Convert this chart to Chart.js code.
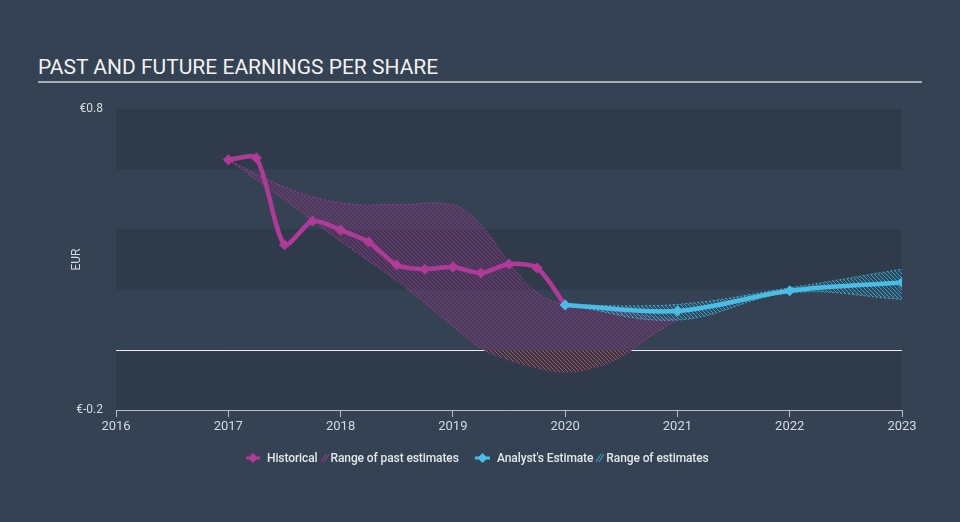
<!DOCTYPE html>
<html>
<head>
<meta charset="utf-8">
<script src="https://cdn.jsdelivr.net/npm/chart.js@4"></script>
<style>
  html, body { margin: 0; padding: 0; }
  body {
    width: 960px; height: 522px; overflow: hidden; position: relative;
    background: #344253; font-family: Roboto, "Open Sans", sans-serif;
  }
  #title {
    position: absolute; left: 38px; top: 57px; width: 884px;
    font-size: 21px; line-height: 21px; color: #f2f2f2;
    padding-bottom: 3px; border-bottom: 2px solid #a7adb5;
  }
  #chart { position: absolute; left: 0; top: 0; }
  .legend {
    position: absolute; top: 451px; height: 14px; display: flex; align-items: center;
    font-size: 12px; letter-spacing: -0.1px; font-weight: 500; color: #e4e6ea; white-space: nowrap;
  }
  .legend svg { display: block; }
  .legend .ico { margin-right: 7px; }
  .legend .hatch { margin: 0 2px 0 3px; }
</style>
</head>
<body>
<div id="title">PAST AND FUTURE EARNINGS PER SHARE</div>
<canvas id="chart" width="960" height="522"></canvas>
<div class="legend" style="left:246px">
  <svg class="ico" width="14" height="12"><line x1="0" y1="6" x2="14" y2="6" stroke="#b13a98" stroke-width="3"/><path d="M7 1 L12 6 L7 11 L2 6 Z" fill="#b13a98"/></svg>
  <span>Historical</span>
  <svg class="hatch" width="8" height="10"><path d="M0 9 L5 1 M3 9 L8 1" stroke="#8a3a86" stroke-width="1.4"/></svg>
  <span>Range of past estimates</span>
</div>
<div class="legend" style="left:475px">
  <svg class="ico" width="15" height="12"><line x1="0" y1="6" x2="15" y2="6" stroke="#49bde3" stroke-width="3"/><path d="M7.5 1 L12.5 6 L7.5 11 L2.5 6 Z" fill="#49bde3"/></svg>
  <span>Analyst's Estimate</span>
  <svg class="hatch" width="8" height="10"><path d="M0 9 L5 1 M3 9 L8 1" stroke="#3c8fb0" stroke-width="1.4"/></svg>
  <span>Range of estimates</span>
</div>
<script>
// historical EPS (EUR), quarterly
const histYears = [2017, 2017.25, 2017.5, 2017.75, 2018, 2018.25, 2018.5, 2018.75, 2019, 2019.25, 2019.5, 2019.75, 2020];
const histEps = [0.631, 0.637, 0.349, 0.428, 0.398, 0.358, 0.282, 0.268, 0.275, 0.255, 0.285, 0.272, 0.149];

// range of past estimates
const pastYears = [2017, 2017.5, 2018, 2018.5, 2019, 2019.25, 2019.5, 2019.75, 2020, 2020.25, 2020.5, 2020.75, 2021];
const pastHigh = [0.631, 0.541, 0.488, 0.482, 0.481, 0.415, 0.29, 0.19, 0.149, 0.138, 0.125, 0.112, 0.099];
const pastLow = [0.631, 0.498, 0.361, 0.229, 0.079, 0.005, -0.034, -0.06, -0.074, -0.06, -0.024, 0.043, 0.099];

// analyst estimates
const estYears = [2020, 2021, 2022, 2023];
const estEps = [0.149, 0.129, 0.196, 0.224];
const estHigh = [0.149, 0.151, 0.206, 0.268];
const estLow = [0.149, 0.099, 0.189, 0.168];

const yTickLabels = ["€0.8", "€-0.2"];

const colors = {
  magenta: "#b13a98",
  magentaEdge: "rgba(190, 60, 160, 0.75)",
  blue: "#49bde3",
  blueEdge: "rgba(73, 189, 227, 0.85)",
  band: "#2f3b4b",
  tick: "#d6dae0",
  axis: "#b9bec6",
};

function pts(xs, ys) {
  return xs.map((x, i) => ({ x, y: ys[i] }));
}

function hatch(line, bg) {
  const c = document.createElement("canvas");
  c.width = 4; c.height = 4;
  const g = c.getContext("2d");
  if (bg) { g.fillStyle = bg; g.fillRect(0, 0, 4, 4); }
  g.strokeStyle = line;
  g.lineWidth = 1;
  g.beginPath();
  g.moveTo(-1, -1); g.lineTo(5, 5);
  g.moveTo(-1, 3); g.lineTo(1, 5);
  g.moveTo(3, -1); g.lineTo(5, 1);
  g.stroke();
  return g.createPattern(c, "repeat");
}

const bandsPlugin = {
  id: "bands",
  beforeDatasetsDraw(chart) {
    const { ctx, chartArea, scales } = chart;
    const y = scales.y;
    ctx.save();
    ctx.fillStyle = colors.band;
    [[0.6, 0.8], [0.2, 0.4], [-0.2, 0]].forEach(([a, b]) => {
      const top = y.getPixelForValue(b);
      const bot = y.getPixelForValue(a);
      ctx.fillRect(chartArea.left, top, chartArea.right - chartArea.left, bot - top);
    });
    ctx.restore();
  },
};

// zero line drawn on top of the bands
const zeroPlugin = {
  id: "zero",
  beforeDatasetsDraw(chart) {
    const { ctx, chartArea, scales } = chart;
    const y0 = Math.round(scales.y.getPixelForValue(0)) + 0.5;
    ctx.save();
    ctx.strokeStyle = "#e8eaee";
    ctx.lineWidth = 1;
    ctx.beginPath();
    ctx.moveTo(chartArea.left, y0);
    ctx.lineTo(chartArea.right, y0);
    ctx.stroke();
    ctx.restore();
  },
};

const pinkHatch = hatch("rgba(185, 55, 155, 0.42)", "rgba(150, 50, 130, 0.2)");
const redHatch = hatch("rgba(220, 80, 80, 0.85)", colors.band);
const blueHatch = hatch("rgba(73, 189, 227, 0.7)", "rgba(40, 120, 160, 0.2)");

new Chart(document.getElementById("chart"), {
  type: "line",
  data: {
    datasets: [
      {
        label: "Historical",
        data: pts(histYears, histEps),
        borderColor: colors.magenta,
        backgroundColor: colors.magenta,
        borderWidth: 4.5,
        pointStyle: "rectRot",
        pointRadius: 5.5,
        pointBorderWidth: 0,
        tension: 0.25,
        fill: false,
        order: 1,
      },
      {
        label: "Analyst's Estimate",
        data: pts(estYears, estEps),
        borderColor: colors.blue,
        backgroundColor: colors.blue,
        borderWidth: 4.5,
        pointStyle: "rectRot",
        pointRadius: 5.5,
        pointBorderWidth: 0,
        tension: 0.35,
        fill: false,
        order: 0,
      },
      {
        label: "pastHigh",
        data: pts(pastYears, pastHigh),
        borderColor: colors.magentaEdge,
        borderWidth: 1,
        borderDash: [2, 2],
        pointRadius: 0,
        tension: 0.4,
        fill: { target: 3, above: pinkHatch, below: pinkHatch },
        order: 5,
      },
      {
        label: "pastLow",
        data: pts(pastYears, pastLow),
        borderColor: colors.magentaEdge,
        borderWidth: 1,
        borderDash: [2, 2],
        pointRadius: 0,
        tension: 0.4,
        fill: false,
        order: 5,
      },
      {
        label: "pastLowNeg",
        data: pts(pastYears, pastLow),
        borderColor: "transparent",
        borderWidth: 0,
        pointRadius: 0,
        tension: 0.4,
        fill: { target: { value: 0 }, above: "transparent", below: redHatch },
        order: 3,
      },
      {
        label: "estHigh",
        data: pts(estYears, estHigh),
        borderColor: colors.blueEdge,
        borderWidth: 1,
        borderDash: [2, 2],
        pointRadius: 0,
        tension: 0.4,
        fill: { target: 6, above: blueHatch, below: blueHatch },
        order: 2,
      },
      {
        label: "estLow",
        data: pts(estYears, estLow),
        borderColor: colors.blueEdge,
        borderWidth: 1,
        borderDash: [2, 2],
        pointRadius: 0,
        tension: 0.4,
        fill: false,
        order: 2,
      },
    ],
  },
  options: {
    responsive: false,
    animation: false,
    layout: { padding: { left: 40, right: 58, top: 109, bottom: 82 } },
    plugins: { legend: { display: false }, tooltip: { enabled: false } },
    scales: {
      x: {
        type: "linear",
        min: 2016,
        max: 2023,
        afterFit: (s) => { s.height = 30; },
        ticks: {
          stepSize: 1,
          color: colors.tick,
          font: { family: "Roboto", size: 13 },
          padding: 2,
          callback: (v) => String(v),
        },
        grid: { drawOnChartArea: false, drawTicks: true, tickLength: 7, color: colors.axis },
        border: { display: true, color: colors.axis, width: 1 },
      },
      y: {
        min: -0.2,
        max: 0.8,
        afterFit: (s) => { s.width = 76; },
        ticks: {
          stepSize: 0.2,
          color: colors.tick,
          font: { family: "Roboto", size: 12 },
          padding: 13,
          callback: (v) => {
            if (Math.abs(v - 0.8) < 1e-6) return yTickLabels[0];
            if (Math.abs(v + 0.2) < 1e-6) return yTickLabels[1];
            return "";
          },
        },
        title: {
          display: true,
          text: "EUR",
          color: colors.tick,
          font: { family: "Roboto", size: 12 },
          padding: { top: 30, bottom: 0 },
        },
        grid: { display: false, drawTicks: false },
        border: { display: false },
      },
    },
  },
  plugins: [bandsPlugin, zeroPlugin],
});
</script>
</body>
</html>
